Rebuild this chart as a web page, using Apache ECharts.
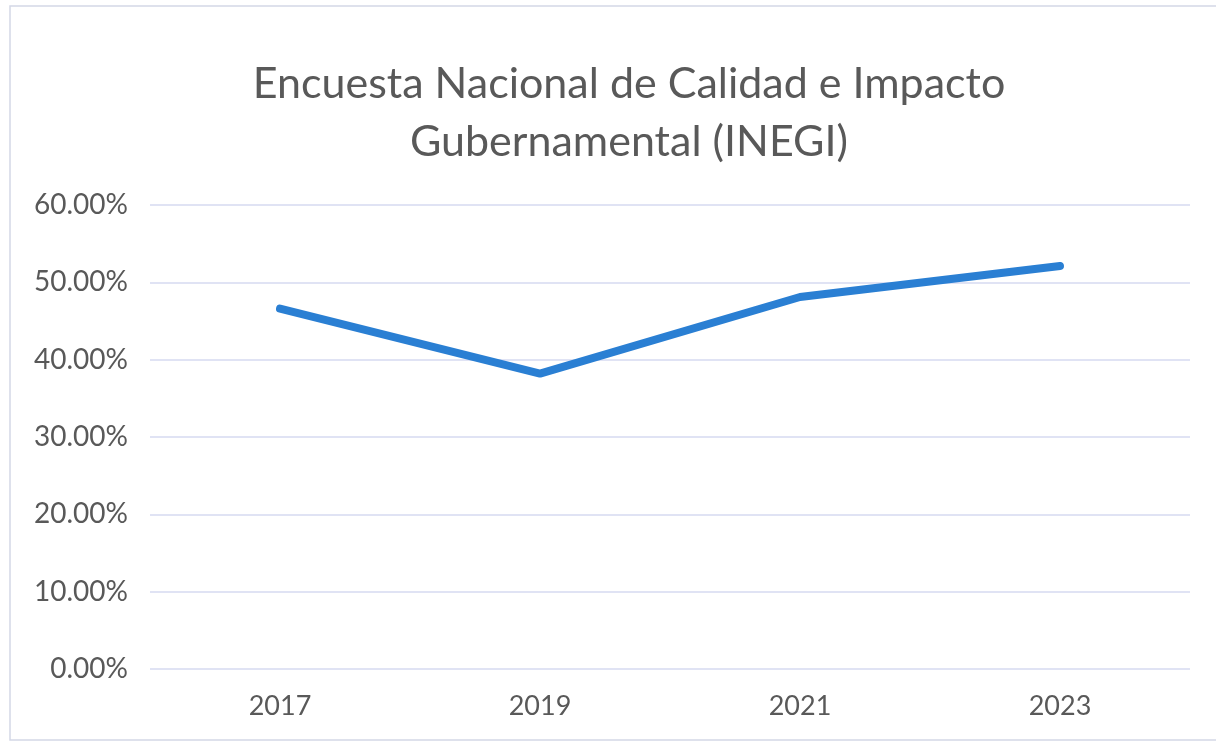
<!DOCTYPE html>
<html>
<head>
<meta charset="utf-8">
<title>Encuesta Nacional de Calidad e Impacto Gubernamental</title>
<script src="https://cdn.jsdelivr.net/npm/echarts@6/dist/echarts.min.js"></script>
<style>
  html, body { margin: 0; padding: 0; background: #fff; }
  #chart { width: 1216px; height: 749px; }
</style>
</head>
<body>
<div id="chart"></div>
<script>
// datos
const years = ['2017', '2019', '2021', '2023']
const values = [0.466, 0.382, 0.481, 0.521]
const yTicks = [0, 0.1, 0.2, 0.3, 0.4, 0.5, 0.6]

const chart = echarts.init(document.getElementById('chart'))
chart.setOption({
  backgroundColor: '#ffffff',
  title: {
    text: 'Encuesta Nacional de Calidad e Impacto\nGubernamental (INEGI)',
    left: 624,
    top: 50,
    textAlign: 'center',
    textStyle: {
      color: '#595959',
      fontFamily: 'Lato',
      fontWeight: 'normal',
      fontSize: 43,
      lineHeight: 58
    }
  },
  grid: {
    left: 150,
    right: 26,
    top: 205,
    bottom: 80
  },
  xAxis: {
    type: 'category',
    data: years,
    boundaryGap: true,
    axisLine: { show: false },
    axisTick: { show: false },
    axisLabel: {
      color: '#595959',
      fontFamily: 'Lato',
      fontSize: 27,
      margin: 24
    },
    splitLine: { show: false }
  },
  yAxis: {
    type: 'value',
    min: yTicks[0],
    max: yTicks[yTicks.length - 1],
    interval: 0.1,
    axisLine: { show: false },
    axisTick: { show: false },
    axisLabel: {
      color: '#595959',
      fontFamily: 'Lato',
      fontSize: 28,
      margin: 22,
      formatter: v => (v * 100).toFixed(2) + '%'
    },
    splitLine: {
      show: true,
      lineStyle: { color: '#d6daf0', width: 1.5 }
    }
  },
  series: [
    {
      name: 'ENCIG',
      type: 'line',
      data: values,
      symbol: 'none',
      lineStyle: {
        color: '#2a7fd3',
        width: 8,
        cap: 'round',
        join: 'round'
      }
    }
  ],
  graphic: [
    {
      type: 'rect',
      shape: { x: 10, y: 6, width: 1220, height: 734 },
      style: { fill: 'none', stroke: '#d4d8e6', lineWidth: 1.5 },
      silent: true
    }
  ]
})
</script>
</body>
</html>
